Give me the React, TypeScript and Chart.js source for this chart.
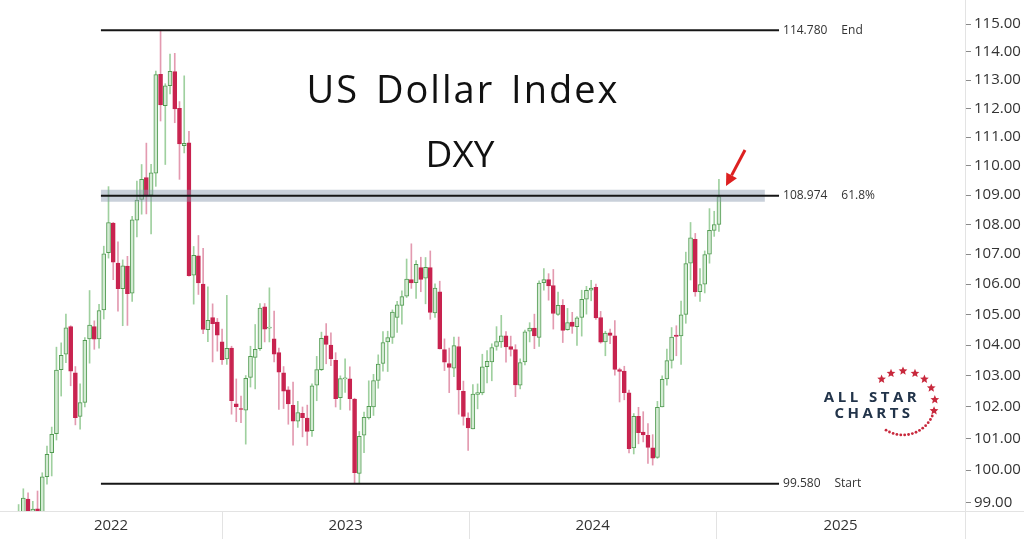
import React, { useEffect, useRef } from 'react';
import { Chart, registerables } from 'chart.js';

Chart.register(...registerables);

// Weekly DXY candles, first week = 2022-02-28, last week = 2024-12-30 (index = week number)
const firstWeek = '2022-02-28';

const opens = [
  96.62, 98.70, 99.10, 98.24, 98.80, 98.62, 99.80, 100.55, 101.15, 103.20,
  103.70, 104.60, 103.10, 101.70, 102.15, 104.20, 104.60, 104.20, 105.15, 107.05,
  108.05, 106.70, 105.85, 106.60, 105.70, 108.15, 108.85, 109.60, 109.00, 109.75,
  113.20, 112.10, 112.80, 113.30, 112.00, 110.70, 110.80, 106.30, 106.95, 106.00,
  104.50, 104.90, 104.75, 104.10, 103.55, 103.90, 102.10, 101.95, 101.90, 102.95,
  103.60, 103.88, 105.25, 104.55, 104.20, 103.75, 103.10, 102.55, 102.05, 101.55,
  101.80, 101.65, 101.25, 102.70, 103.20, 104.30, 104.00, 103.50, 102.30, 102.90,
  102.90, 102.25, 99.90, 101.10, 101.65, 102.00, 102.85, 103.40, 104.10, 104.25,
  104.90, 105.30, 105.60, 106.15, 106.05, 106.55, 106.20, 106.55, 105.05, 105.75,
  103.85, 103.40, 103.25, 103.95, 102.50, 101.65, 101.30, 102.40, 102.45, 103.30,
  103.45, 103.95, 104.10, 104.30, 103.95, 103.85, 102.70, 103.45, 104.45, 104.55,
  104.25, 106.05, 106.15, 105.95, 105.00, 105.30, 104.50, 104.75, 104.60, 104.90,
  105.50, 105.80, 105.90, 104.90, 104.10, 104.40, 104.30, 103.20, 103.15, 102.45,
  100.70, 101.70, 101.20, 101.10, 100.70, 100.40, 102.00, 102.90, 103.50, 104.32,
  104.30, 105.00, 106.70, 107.50, 105.75, 106.00, 107.00, 107.80, 108.00,
];

const highs = [
  98.93, 99.42, 99.29, 99.03, 99.35, 99.92, 100.76, 101.36, 103.93, 104.07,
  105.01, 104.63, 103.30, 102.74, 104.24, 105.79, 104.79, 105.33, 107.27, 109.29,
  108.07, 107.42, 106.81, 106.93, 108.28, 109.48, 110.05, 110.79, 110.06, 113.32,
  114.78, 112.87, 113.92, 113.95, 112.24, 113.15, 111.20, 107.26, 107.63, 107.20,
  105.91, 105.35, 104.87, 104.52, 105.63, 103.96, 102.90, 102.35, 103.01, 103.96,
  104.67, 105.36, 105.36, 105.88, 105.11, 103.90, 103.30, 102.65, 102.80, 102.18,
  102.00, 102.06, 102.74, 103.63, 104.42, 104.70, 104.40, 103.75, 103.00, 103.55,
  103.29, 102.28, 101.22, 101.84, 102.84, 103.05, 103.68, 104.44, 104.45, 105.15,
  105.43, 105.78, 106.84, 107.35, 106.79, 106.90, 106.89, 107.11, 106.01, 106.10,
  104.20, 103.90, 104.26, 104.26, 102.83, 101.81, 102.72, 102.74, 103.70, 103.82,
  104.04, 104.60, 104.97, 104.44, 104.29, 104.01, 103.55, 104.49, 104.73, 105.01,
  106.11, 106.52, 106.35, 106.49, 105.74, 105.49, 105.20, 105.07, 104.93, 105.80,
  105.93, 106.13, 106.00, 105.10, 104.45, 104.52, 104.80, 103.25, 103.31, 102.54,
  101.79, 101.99, 101.85, 101.47, 101.12, 102.18, 103.00, 103.87, 104.57, 104.63,
  105.44, 107.07, 108.07, 107.70, 106.52, 107.11, 108.54, 108.45, 109.54,
];

const lows = [
  96.60, 98.17, 97.71, 98.11, 97.69, 98.59, 99.56, 99.82, 100.95, 102.35,
  103.43, 102.68, 101.43, 101.29, 102.00, 103.41, 103.86, 103.90, 104.85, 106.87,
  106.15, 105.11, 104.63, 104.64, 105.43, 107.58, 108.35, 108.36, 107.68, 109.30,
  111.56, 110.05, 112.51, 111.50, 109.54, 110.45, 106.27, 105.34, 105.66, 104.37,
  104.11, 103.45, 103.80, 103.37, 103.37, 101.77, 101.53, 101.50, 100.82, 102.64,
  102.58, 103.82, 104.10, 104.10, 103.45, 101.92, 101.95, 101.45, 100.79, 101.35,
  101.05, 100.78, 101.06, 102.20, 103.17, 103.39, 103.33, 102.00, 101.92, 102.47,
  101.90, 99.58, 99.60, 100.55, 101.61, 101.73, 102.60, 103.15, 103.14, 104.05,
  104.41, 104.68, 105.56, 105.86, 105.53, 105.75, 105.35, 104.84, 104.90, 103.87,
  103.17, 102.46, 102.97, 101.77, 101.42, 100.62, 101.30, 101.94, 102.39, 102.77,
  102.84, 103.83, 103.92, 103.44, 103.64, 102.33, 102.58, 103.35, 104.10, 103.88,
  103.95, 105.80, 105.47, 104.52, 104.97, 104.08, 104.48, 104.38, 103.99, 104.29,
  105.01, 105.45, 104.84, 104.06, 103.65, 104.04, 103.02, 102.16, 102.23, 100.54,
  100.51, 100.83, 100.89, 100.21, 100.16, 100.37, 102.00, 102.70, 103.25, 103.65,
  103.37, 104.71, 106.14, 105.60, 105.43, 105.71, 106.70, 107.60, 107.77,
];

const closes = [
  98.66, 99.13, 98.23, 98.79, 98.61, 99.79, 100.50, 101.13, 103.19, 103.66,
  104.56, 103.15, 101.66, 102.14, 104.15, 104.65, 104.19, 105.13, 107.01, 108.07,
  106.73, 105.85, 106.61, 105.69, 108.16, 108.83, 109.54, 109.00, 109.76, 113.19,
  112.12, 112.80, 113.31, 111.98, 110.76, 110.78, 106.28, 106.96, 106.04, 104.51,
  104.81, 104.70, 104.32, 103.52, 103.89, 102.20, 102.01, 101.92, 102.92, 103.63,
  103.86, 105.21, 104.52, 104.58, 103.70, 103.12, 102.51, 102.10, 101.55, 101.82,
  101.66, 101.22, 102.68, 103.20, 104.22, 104.02, 103.55, 102.27, 102.91, 102.91,
  102.27, 99.92, 101.07, 101.67, 102.02, 102.85, 103.38, 104.08, 104.24, 105.08,
  105.32, 105.59, 106.17, 106.04, 106.66, 106.16, 106.56, 105.07, 105.87, 103.87,
  103.44, 103.27, 103.98, 102.55, 101.70, 101.33, 102.41, 102.46, 103.29, 103.47,
  103.92, 104.11, 104.30, 103.94, 103.86, 102.71, 103.43, 104.43, 104.55, 104.30,
  106.04, 106.15, 105.94, 105.03, 105.30, 104.48, 104.73, 104.61, 104.89, 105.50,
  105.80, 105.87, 104.89, 104.09, 104.39, 104.31, 103.21, 103.14, 102.46, 100.68,
  101.70, 101.18, 101.11, 100.72, 100.38, 101.99, 102.89, 103.49, 104.26, 104.28,
  104.99, 106.69, 107.55, 105.74, 105.99, 106.99, 107.80, 108.00, 108.95,
];

const yTicks = [99, 100, 101, 102, 103, 104, 105, 106, 107, 108, 109, 110, 111, 112, 113, 114, 115];
const yearLabels = ['2022', '2023', '2024', '2025'];
const yearBoundaries = [43.0, 95.2, 147.4]; // in week units
const fibLevels = [114.78, 108.974, 99.58];
const fibNames = ['End', '61.8%', 'Start'];
const fibFrom = 17.4;
const fibTo = 160.7;
const bandTo = 157.7;

const xMin = -3.93;
const xMax = 200;
const yMin = 98.73;
const yMax = 115.87;

const UP_FILL = '#d3ebd3';
const UP_BORDER = '#529b52';
const UP_WICK = '#9fd09f';
const DN_FILL = '#c8234f';
const DN_WICK = '#e39ab0';

function drawStar(ctx: CanvasRenderingContext2D, cx: number, cy: number, r: number) {
  ctx.beginPath();
  for (let k = 0; k < 10; k++) {
    const rr = k % 2 === 0 ? r : r * 0.45;
    const a = -Math.PI / 2 + (k * Math.PI) / 5;
    const px = cx + rr * Math.cos(a);
    const py = cy + rr * Math.sin(a);
    if (k === 0) ctx.moveTo(px, py);
    else ctx.lineTo(px, py);
  }
  ctx.closePath();
  ctx.fill();
}

export default function App() {
  const ref = useRef<HTMLCanvasElement>(null);

  useEffect(() => {
    const canvas = ref.current;
    if (!canvas) return;
    const idx = opens.map((_, i) => i);
    const up = idx.map((i) => closes[i] >= opens[i]);

    const bounds = [xMin, ...yearBoundaries, xMax];
    const xTickSpecs: { value: number; label: string }[] = [];
    yearBoundaries.forEach((b) => xTickSpecs.push({ value: b, label: '' }));
    xTickSpecs.push({ value: xMax, label: '' });
    yearLabels.forEach((lab, k) => xTickSpecs.push({ value: (bounds[k] + bounds[k + 1]) / 2, label: lab }));
    xTickSpecs.sort((a, b) => a.value - b.value);

    const fibDatasets: any[] = fibLevels.map((lv) => ({
      type: 'line',
      data: [
        { x: fibFrom, y: lv },
        { x: fibTo, y: lv },
      ],
      borderColor: '#161616',
      borderWidth: 2,
      pointRadius: 0,
      order: 1,
    }));

    const bandDataset: any = {
      type: 'line',
      data: [
        { x: fibFrom, y: fibLevels[1] },
        { x: bandTo, y: fibLevels[1] },
      ],
      borderColor: 'rgba(135,150,172,0.45)',
      borderWidth: 12,
      borderCapStyle: 'butt',
      pointRadius: 0,
      order: 2,
    };

    const overlay = {
      id: 'overlay',
      beforeDraw(chart: any) {
        const c = chart.ctx as CanvasRenderingContext2D;
        c.save();
        c.fillStyle = '#ffffff';
        c.fillRect(0, 0, chart.width, chart.height);
        c.restore();
      },
      afterDraw(chart: any) {
        const c = chart.ctx as CanvasRenderingContext2D;
        const xs = chart.scales.x;
        const ys = chart.scales.y;
        const area = chart.chartArea;
        c.save();
        // axis band top line across full width
        c.strokeStyle = '#e3e3e3';
        c.lineWidth = 1;
        c.beginPath();
        c.moveTo(0, Math.round(area.bottom) + 0.5);
        c.lineTo(chart.width, Math.round(area.bottom) + 0.5);
        c.stroke();

        // fib labels
        c.font = '12px "Open Sans"';
        c.fillStyle = '#333333';
        c.textBaseline = 'middle';
        c.textAlign = 'left';
        fibLevels.forEach((lv, k) => {
          const x = xs.getPixelForValue(fibTo) + 4;
          const y = ys.getPixelForValue(lv);
          const t = lv.toFixed(3);
          c.fillText(t, x, y);
          c.fillText(fibNames[k], x + c.measureText(t).width + 14, y);
        });

        // title
        c.fillStyle = '#111111';
        c.textAlign = 'center';
        c.textBaseline = 'alphabetic';
        c.font = '38px "Open Sans"';
        (c as any).letterSpacing = '2px';
        (c as any).wordSpacing = '5px';
        c.fillText('US Dollar Index', 463, 103);
        (c as any).letterSpacing = '0px';
        (c as any).wordSpacing = '0px';
        c.font = '37px "Open Sans"';
        c.fillText('DXY', 460, 167);

        // logo
        c.fillStyle = '#22344a';
        c.font = 'bold 15px "Open Sans"';
        (c as any).letterSpacing = '3.5px';
        c.fillText('ALL STAR', 872, 402);
        c.fillText('CHARTS', 874, 418);
        (c as any).letterSpacing = '0px';
        c.fillStyle = '#c8283c';
        const cx = 903;
        const cy = 403;
        const r = 32;
        [-132, -112, -90, -68, -48, -28, -6, 14].forEach((deg) => {
          const a = (deg * Math.PI) / 180;
          drawStar(c, cx + r * Math.cos(a), cy + r * Math.sin(a), 4.6);
        });
        for (let deg = 24; deg <= 126; deg += 7) {
          const a = (deg * Math.PI) / 180;
          c.beginPath();
          c.arc(cx + r * Math.cos(a), cy + r * Math.sin(a), 1.4, 0, Math.PI * 2);
          c.fill();
        }

        // arrow
        const tx = 745, tyy = 150, hx = 726, hy = 186;
        const dx = hx - tx, dy = hy - tyy;
        const len = Math.hypot(dx, dy);
        const ux = dx / len, uy = dy / len;
        const bx = hx - ux * 12, by = hy - uy * 12;
        c.strokeStyle = '#dd2020';
        c.fillStyle = '#dd2020';
        c.lineWidth = 3;
        c.beginPath();
        c.moveTo(tx, tyy);
        c.lineTo(bx, by);
        c.stroke();
        c.beginPath();
        c.moveTo(hx, hy);
        c.lineTo(bx + uy * 6, by - ux * 6);
        c.lineTo(bx - uy * 6, by + ux * 6);
        c.closePath();
        c.fill();
        c.restore();
      },
    };

    const chart = new Chart(canvas, {
      type: 'bar',
      data: {
        datasets: [
          ...fibDatasets,
          bandDataset,
          {
            type: 'bar',
            label: 'bodies',
            data: idx.map((i) => ({ x: i, y: [opens[i], closes[i]] })) as any,
            backgroundColor: idx.map((i) => (up[i] ? UP_FILL : DN_FILL)),
            borderColor: idx.map((i) => (up[i] ? UP_BORDER : DN_FILL)),
            borderWidth: 1,
            borderSkipped: false,
            barThickness: 4,
            minBarLength: 1,
            grouped: false,
            order: 3,
          } as any,
          {
            type: 'bar',
            label: 'wicks',
            data: idx.map((i) => ({ x: i, y: [lows[i], highs[i]] })) as any,
            backgroundColor: idx.map((i) => (up[i] ? UP_WICK : DN_WICK)),
            borderWidth: 0,
            barThickness: 1,
            grouped: false,
            order: 4,
          } as any,
        ],
      },
      options: {
        responsive: false,
        animation: false,
        devicePixelRatio: 1,
        layout: { padding: 0 },
        plugins: { legend: { display: false }, tooltip: { enabled: false }, title: { display: false } },
        scales: {
          x: {
            type: 'linear',
            min: xMin,
            max: xMax,
            offset: false,
            afterBuildTicks: (s: any) => {
              s.ticks = xTickSpecs.map((t) => ({ value: t.value }));
            },
            afterFit: (s: any) => {
              s.height = 28;
              s.paddingLeft = 0;
              s.paddingRight = 0;
            },
            ticks: {
              autoSkip: false,
              maxRotation: 0,
              minRotation: 0,
              padding: -22,
              color: '#333333',
              font: { family: 'Open Sans', size: 15 },
              callback: (_v: any, i: number) => xTickSpecs[i]?.label ?? '',
            },
            grid: {
              drawOnChartArea: false,
              drawTicks: true,
              tickLength: 28,
              offset: false,
              color: (ctx: any) => (xTickSpecs[ctx.index]?.label ? 'rgba(0,0,0,0)' : '#e3e3e3'),
            },
            border: { display: true, color: '#e3e3e3' },
          },
          y: {
            type: 'logarithmic',
            position: 'right',
            min: yMin,
            max: yMax,
            afterBuildTicks: (s: any) => {
              s.ticks = yTicks.map((v) => ({ value: v }));
            },
            afterFit: (s: any) => {
              s.width = 59;
              s.paddingTop = 0;
              s.paddingBottom = 0;
            },
            ticks: {
              autoSkip: false,
              padding: 3,
              color: '#333333',
              font: { family: 'Open Sans', size: 15 },
              callback: (v: any) => Number(v).toFixed(2),
            },
            grid: { drawOnChartArea: false, tickLength: 6, color: '#8a8a8a' },
            border: { display: true, color: '#e3e3e3' },
          },
        },
      } as any,
      plugins: [overlay],
    });

    return () => chart.destroy();
  }, []);

  return (
    <div style={{ position: 'fixed', left: 0, top: 0, width: 1024, height: 539, background: '#fff' }} data-first-week={firstWeek}>
      <canvas ref={ref} width={1024} height={539} style={{ display: 'block' }} />
    </div>
  );
}
